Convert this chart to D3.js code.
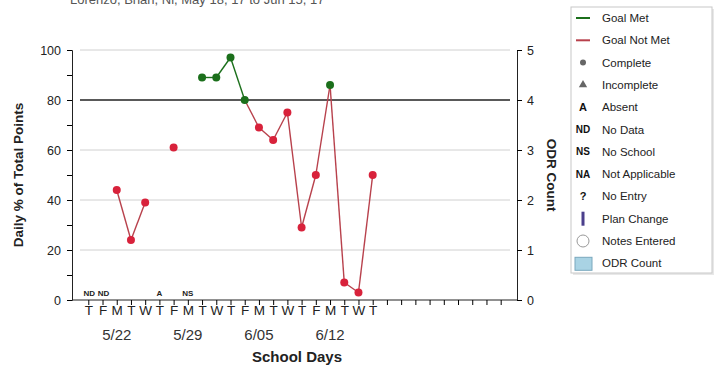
<!DOCTYPE html>
<html><head><meta charset="utf-8">
<script src="https://cdn.jsdelivr.net/npm/d3@7"></script>
<style>body{margin:0;background:#fff}svg{display:block;font-family:"Liberation Sans",Arial,sans-serif}</style>
</head><body><svg id="c" width="726" height="369"></svg>
<script>
const dayLetters = ["T","F","M","T","W","T","F","M","T","W","T","F","M","T","W","T","F","M","T","W","T"];
const pointValues = [null,null,44,24,39,null,61,null,89,89,97,80,69,64,75,29,50,86,7,3,50];
const statusCodes = ["ND","ND","","","","A","","NS","","","","","","","","","","","","",""];
const dateLabels = [{i:2,t:"5/22"},{i:7,t:"5/29"},{i:12,t:"6/05"},{i:17,t:"6/12"}];
const leftTicks = [0,20,40,60,80,100];
const rightTicks = [0,1,2,3,4,5];
const goal = 80;
const legendItems = ["Goal Met","Goal Not Met","Complete","Incomplete","Absent","No Data","No School","Not Applicable","No Entry","Plan Change","Notes Entered","ODR Count"];
const title = "Lorenzo, Brian, Ni, May 18, 17 to Jun 15, 17";

const GREEN="#1b6f1b", RED_LINE="#b8414c", RED_DOT="#d8223b";
const svg = d3.select("#c");
const x = d3.scaleLinear().domain([0,20]).range([88.3,372.7]);
const y = d3.scaleLinear().domain([0,100]).range([300,50]);
const y2 = d3.scaleLinear().domain([0,5]).range([300,50]);
const L=72, R=517;

// title (cut off at top, as in the reference)
svg.append("text").attr("x",70).attr("y",4).attr("font-size",13).attr("fill","#555").text(title);

// gridlines
svg.append("g").selectAll("line").data(leftTicks.filter(d=>d>0&&d!==goal)).join("line")
  .attr("x1",80).attr("x2",510).attr("y1",d=>y(d)).attr("y2",d=>y(d)).attr("stroke","#d0d0d0").attr("stroke-width",1);
svg.append("line").attr("x1",80).attr("x2",510).attr("y1",y(goal)).attr("y2",y(goal)).attr("stroke","#222").attr("stroke-width",1.3);

// left axis
const la = svg.append("g").attr("transform",`translate(${L},0)`)
  .call(d3.axisLeft(y).tickValues(d3.range(0,101,10)).tickSize(5).tickFormat(d=>leftTicks.includes(d)?d:""));
la.select(".domain").attr("stroke","#222");
la.selectAll("text").attr("font-size",12.5).attr("fill","#222").attr("dx",-3).attr("font-family","Liberation Sans, Arial");
// right axis
const ra = svg.append("g").attr("transform",`translate(${R},0)`)
  .call(d3.axisRight(y2).tickValues(rightTicks).tickSize(5).tickFormat(d3.format("d")));
ra.select(".domain").attr("stroke","#222");
ra.selectAll("text").attr("font-size",12.5).attr("fill","#222").attr("dx",2).attr("font-family","Liberation Sans, Arial");

// x axis
svg.append("line").attr("x1",L).attr("x2",R).attr("y1",300).attr("y2",300).attr("stroke","#222");
const xa = svg.append("g").attr("transform","translate(0,300)")
  .call(d3.axisBottom(x).tickValues(d3.range(0,30)).tickSize(5).tickFormat(d=>dayLetters[d]||""));
xa.select(".domain").remove();
xa.selectAll("text").attr("font-size",13.5).attr("fill","#222").attr("dy","0.5em").attr("font-family","Liberation Sans, Arial");
svg.append("g").selectAll("text").data(dateLabels).join("text")
  .attr("x",d=>x(d.i)).attr("y",340).attr("text-anchor","middle").attr("font-size",15).attr("fill","#333").text(d=>d.t);

// status codes
svg.append("g").selectAll("text").data(statusCodes.map((c,i)=>({c,i})).filter(d=>d.c)).join("text")
  .attr("x",d=>x(d.i)+(d.c==="ND"?1:0)).attr("y",296).attr("text-anchor","middle").attr("font-size",8).attr("font-weight","bold").attr("fill","#222").text(d=>d.c);

// axis titles
svg.append("text").attr("transform","translate(23,175) rotate(-90)").attr("text-anchor","middle").attr("font-size",13.5).attr("font-weight","bold").attr("fill","#222").text("Daily % of Total Points");
svg.append("text").attr("transform","translate(547,175) rotate(90)").attr("text-anchor","middle").attr("font-size",13.5).attr("font-weight","bold").attr("fill","#222").text("ODR Count");
svg.append("text").attr("x",297).attr("y",362).attr("text-anchor","middle").attr("font-size",15).attr("font-weight","bold").attr("fill","#222").text("School Days");

// line segments
const segs=[];
for(let i=0;i<pointValues.length-1;i++){
  const a=pointValues[i], b=pointValues[i+1];
  if(a!=null&&b!=null) segs.push({i,a,b,met:a>=goal&&b>=goal});
}
svg.append("g").selectAll("line").data(segs).join("line")
  .attr("x1",d=>x(d.i)).attr("x2",d=>x(d.i+1)).attr("y1",d=>y(d.a)).attr("y2",d=>y(d.b))
  .attr("stroke",d=>d.met?GREEN:RED_LINE).attr("stroke-width",1.4);
svg.append("g").selectAll("circle").data(pointValues.map((v,i)=>({v,i})).filter(d=>d.v!=null)).join("circle")
  .attr("cx",d=>x(d.i)).attr("cy",d=>y(d.v)).attr("r",4).attr("fill",d=>d.v>=goal?GREEN:RED_DOT);

// legend
const lg = svg.append("g");
lg.append("rect").attr("x",573).attr("y",9).attr("width",141).attr("height",266).attr("fill","#e8e8e8");
lg.append("rect").attr("x",571).attr("y",7).attr("width",141).attr("height",266).attr("fill","#fff").attr("stroke","#c8c8c8");
const ly = i=>18+i*22.3, sx=583;
legendItems.forEach((t,i)=>{
  lg.append("text").attr("x",602).attr("y",ly(i)).attr("dy","0.35em").attr("font-size",11.5).attr("fill","#222").text(t);
});
lg.append("line").attr("x1",576).attr("x2",590).attr("y1",ly(0)).attr("y2",ly(0)).attr("stroke",GREEN).attr("stroke-width",2);
lg.append("line").attr("x1",576).attr("x2",590).attr("y1",ly(1)).attr("y2",ly(1)).attr("stroke",RED_LINE).attr("stroke-width",2);
lg.append("circle").attr("cx",sx).attr("cy",ly(2)).attr("r",3).attr("fill","#666");
lg.append("path").attr("d",d3.symbol(d3.symbolTriangle,30)()).attr("transform",`translate(${sx},${ly(3)})`).attr("fill","#666");
[["A",4],["ND",5],["NS",6],["NA",7],["?",8]].forEach(([s,i])=>{
  lg.append("text").attr("x",sx).attr("y",ly(i)).attr("dy","0.35em").attr("text-anchor","middle").attr("font-size",s==="A"||s==="?"?11:10).attr("font-weight","bold").attr("fill","#111").text(s);
});
lg.append("rect").attr("x",sx-1.5).attr("y",ly(9)-7).attr("width",3).attr("height",14).attr("fill","#4b3f8c");
lg.append("circle").attr("cx",sx).attr("cy",ly(10)).attr("r",6).attr("fill","#fff").attr("stroke","#999");
lg.append("rect").attr("x",575).attr("y",ly(11)-6).attr("width",17).attr("height",13).attr("fill","#a9d3e4").attr("stroke","#7aa8bd");
</script></body></html>
